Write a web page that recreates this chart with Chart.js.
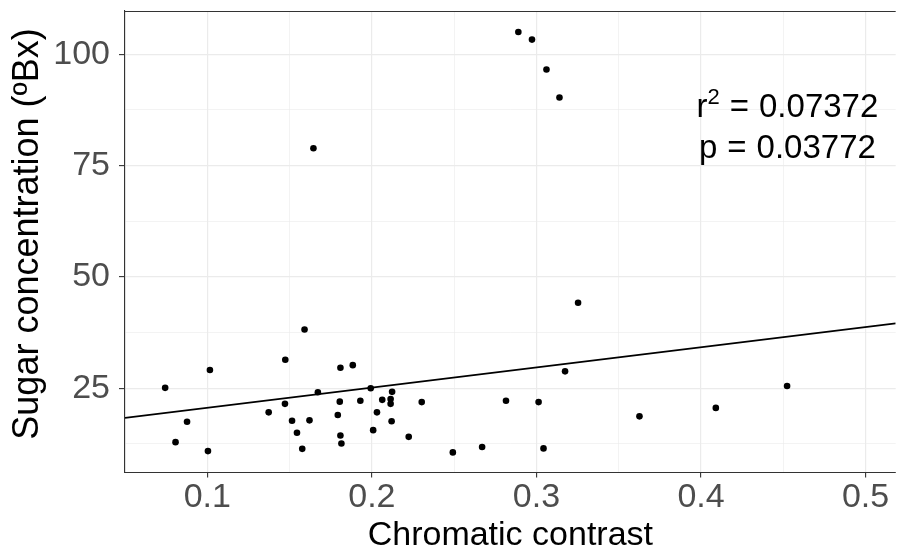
<!DOCTYPE html>
<html>
<head>
<meta charset="utf-8">
<script src="https://cdn.jsdelivr.net/npm/chart.js@4"></script>
<style>
  html, body { margin: 0; padding: 0; background: #fff; }
  canvas { display: block; }
</style>
</head>
<body>
<canvas id="c" width="899" height="556"></canvas>
<script>
// ---- data ----
const xValues = [0.0744, 0.0807, 0.0877, 0.1004, 0.1016, 0.1373, 0.1474, 0.1472, 0.1515, 0.1545,
                 0.1577, 0.1591, 0.1621, 0.1645, 0.1672, 0.1793, 0.1805, 0.1809, 0.1809, 0.1815,
                 0.1884, 0.1930, 0.1993, 0.2008, 0.2031, 0.2063, 0.2114, 0.2114, 0.2123, 0.2120,
                 0.2224, 0.2303, 0.2492, 0.2670, 0.2815, 0.2890, 0.2973, 0.3013, 0.3043, 0.3061,
                 0.3140, 0.3174, 0.3253, 0.3626, 0.4090, 0.4523];
const yValues = [25.1, 12.9, 17.5, 10.9, 29.1, 19.6, 31.4, 21.5, 17.7, 15.0,
                 11.4, 38.2, 17.8, 78.9, 24.1, 19.0, 22.0, 29.6, 14.4, 12.6,
                 30.2, 22.2, 25.0, 15.6, 19.6, 22.4, 22.6, 21.5, 24.2, 17.6,
                 14.1, 21.9, 10.6, 11.8, 22.2, 105.0, 103.3, 21.9, 11.5, 96.6,
                 90.3, 28.8, 44.2, 18.7, 20.6, 25.5];
const fitIntercept = 16.1;
const fitSlope = 45.3;
const statLines = [["r", "2", "0.07372"], ["p", "", "0.03772"]];

const xMajorTicks = [0.1, 0.2, 0.3, 0.4, 0.5];
const xTickLabels = ["0.1", "0.2", "0.3", "0.4", "0.5"];
const xMinorGrid = [0.05, 0.15, 0.25, 0.35, 0.45];
const yMajorTicks = [25, 50, 75, 100];
const yTickLabels = ["25", "50", "75", "100"];
const yMinorGrid = [12.5, 37.5, 62.5, 87.5];

const xTitle = "Chromatic contrast";
const yTitle = "Sugar concentration (ºBx)";

// ---- layout / styling ----
const xMin = 0.05, xMax = 0.5183;
const yMin = 6.09, yMax = 109.72;
const FONT = "'Liberation Sans', Arial, sans-serif";

const near = (a, b) => Math.abs(a - b) < 1e-9;
const majorIndex = (list, v) => list.findIndex(t => near(t, v));

const points = xValues.map((x, i) => ({ x: x, y: yValues[i] }));
const fitLine = [xMin, xMax].map(x => ({ x: x, y: fitIntercept + fitSlope * x }));

const panelTop = {
  id: 'panelTop',
  afterDraw(chart) {
    const { ctx, chartArea } = chart;
    ctx.save();
    ctx.strokeStyle = '#333333';
    ctx.lineWidth = 1.1;
    ctx.beginPath();
    ctx.moveTo(chartArea.left, chartArea.top + 0.5);
    ctx.lineTo(chartArea.right, chartArea.top + 0.5);
    ctx.stroke();
    ctx.restore();
  }
};

// y-axis title (drawn so its centre can sit where the reference puts it)
const yTitlePlugin = {
  id: 'yTitlePlugin',
  afterDraw(chart) {
    const { ctx } = chart;
    ctx.save();
    ctx.translate(28, 234);
    ctx.rotate(-Math.PI / 2);
    ctx.font = '36px ' + FONT;
    ctx.fillStyle = '#000';
    ctx.textAlign = 'center';
    ctx.textBaseline = 'middle';
    ctx.fillText(yTitle, 0, 0);
    ctx.restore();
  }
};

const statText = {
  id: 'statText',
  afterDatasetsDraw(chart) {
    const { ctx } = chart;
    const xs = chart.scales.x, ys = chart.scales.y;
    const cx = xs.getPixelForValue(0.4525);
    const baselines = [ys.getPixelForValue(86.0), ys.getPixelForValue(76.6)];
    const size = 33, supSize = 22, gap = 10;
    ctx.save();
    ctx.fillStyle = '#000';
    ctx.textBaseline = 'alphabetic';
    ctx.textAlign = 'left';
    statLines.forEach((ln, i) => {
      const [sym, sup, val] = ln;
      ctx.font = size + 'px ' + FONT;
      const wSym = ctx.measureText(sym).width;
      const wEq = ctx.measureText('=').width;
      const wVal = ctx.measureText(val).width;
      ctx.font = supSize + 'px ' + FONT;
      const wSup = sup ? ctx.measureText(sup).width : 0;
      const total = wSym + wSup + gap + wEq + gap + wVal;
      let x = cx - total / 2;
      const y = baselines[i];
      ctx.font = size + 'px ' + FONT;
      ctx.fillText(sym, x, y); x += wSym;
      if (sup) {
        ctx.font = supSize + 'px ' + FONT;
        ctx.fillText(sup, x, y - 13); x += wSup;
        ctx.font = size + 'px ' + FONT;
      }
      x += gap;
      ctx.fillText('=', x, y); x += wEq + gap;
      ctx.fillText(val, x, y);
    });
    ctx.restore();
  }
};

new Chart(document.getElementById('c'), {
  data: {
    datasets: [
      {
        type: 'scatter',
        data: points,
        pointRadius: 3.3,
        pointBackgroundColor: '#000',
        pointBorderWidth: 0,
        pointHoverRadius: 3.3,
        order: 2
      },
      {
        type: 'line',
        data: fitLine,
        borderColor: '#000',
        borderWidth: 1.6,
        pointRadius: 0,
        fill: false,
        order: 1
      }
    ]
  },
  options: {
    responsive: false,
    animation: false,
    events: [],
    layout: { padding: { top: 11, right: 0, bottom: 0, left: 0 } },
    plugins: { legend: { display: false }, tooltip: { enabled: false } },
    scales: {
      x: {
        type: 'linear',
        min: xMin, max: xMax,
        afterBuildTicks(axis) {
          axis.ticks = xMinorGrid.concat(xMajorTicks).sort((a, b) => a - b).map(v => ({ value: v }));
        },
        afterFit(axis) {
          axis.height = 83.5;
          axis.paddingLeft = 0; axis.paddingRight = 0;
          axis.paddingTop = 0; axis.paddingBottom = 0;
        },
        ticks: {
          autoSkip: false,
          maxRotation: 0,
          padding: 0,
          color: '#4D4D4D',
          font: { family: FONT, size: 34 },
          callback(v) { const i = majorIndex(xMajorTicks, v); return i >= 0 ? xTickLabels[i] : ''; }
        },
        grid: {
          color: '#EBEBEB',
          lineWidth: ctx => majorIndex(xMajorTicks, ctx.tick.value) >= 0 ? 1.2 : 0.6,
          tickLength: 5,
          tickWidth: 1.1,
          tickColor: ctx => majorIndex(xMajorTicks, ctx.tick.value) >= 0 ? '#333333' : 'rgba(0,0,0,0)'
        },
        border: { display: true, color: '#333333', width: 1.1 },
        title: {
          display: true, text: xTitle, color: '#000',
          font: { family: FONT, size: 34 },
          padding: { top: 0, bottom: 0 }
        }
      },
      y: {
        type: 'linear',
        min: yMin, max: yMax,
        afterBuildTicks(axis) {
          axis.ticks = yMinorGrid.concat(yMajorTicks).sort((a, b) => a - b).map(v => ({ value: v }));
        },
        afterFit(axis) {
          axis.width = 125;
          axis.paddingLeft = 0; axis.paddingRight = 0;
          axis.paddingTop = 0; axis.paddingBottom = 0;
        },
        ticks: {
          autoSkip: false,
          padding: 9,
          color: '#4D4D4D',
          font: { family: FONT, size: 34 },
          callback(v) { const i = majorIndex(yMajorTicks, v); return i >= 0 ? yTickLabels[i] : ''; }
        },
        grid: {
          color: '#EBEBEB',
          lineWidth: ctx => majorIndex(yMajorTicks, ctx.tick.value) >= 0 ? 1.2 : 0.6,
          tickLength: 6,
          tickWidth: 1.1,
          tickColor: ctx => majorIndex(yMajorTicks, ctx.tick.value) >= 0 ? '#333333' : 'rgba(0,0,0,0)'
        },
        border: { display: true, color: '#333333', width: 1.1 },
        title: { display: false }
      }
    }
  },
  plugins: [panelTop, yTitlePlugin, statText]
});
</script>
</body>
</html>
